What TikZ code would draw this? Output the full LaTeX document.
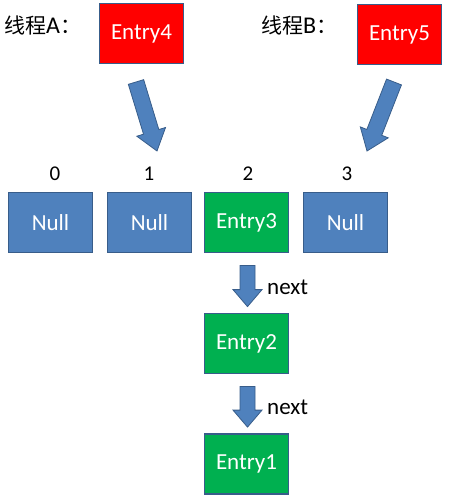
\documentclass[tikz,border=0pt]{standalone}
\usepackage{fontspec}
\setmainfont{Carlito}
\newfontfamily\cjk{Noto Sans CJK SC}
\usetikzlibrary{calc}
\definecolor{boxblue}{HTML}{4F81BD}
\definecolor{boxedge}{HTML}{385D8A}
\definecolor{boxred}{HTML}{FF0000}
\definecolor{boxgreen}{HTML}{00B050}
\tikzset{
  cell/.style={draw=boxedge, line width=1.8pt, minimum width=84pt, minimum height=60pt, inner sep=0pt, text=white, font=\fontsize{23}{26}\selectfont},
  nullcell/.style={cell, fill=boxblue},
  redcell/.style={cell, fill=boxred},
  greencell/.style={cell, fill=boxgreen},
  lbl/.style={font=\fontsize{21}{24}\selectfont, text=black, inner sep=0pt},
  side/.style={lbl, anchor=west, font=\fontsize{23}{26}\selectfont},
  thread/.style={lbl, anchor=west, font=\fontsize{24}{28}\selectfont},
  blockarrow/.style={fill=boxblue, draw=boxedge, line width=0.8pt, line join=miter}
}
\newcommand{\blkarrow}[5]{% start, end, shaft half, head half, head length
  \path (#1) coordinate (ba-s) (#2) coordinate (ba-e);
  \path ($(ba-e)!#5!(ba-s)$) coordinate (ba-h);
  \filldraw[blockarrow] ($(ba-s)!#3!90:(ba-e)$) -- ($(ba-h)!#3!90:(ba-e)$) -- ($(ba-h)!#4!90:(ba-e)$) -- (ba-e) -- ($(ba-h)!#4!-90:(ba-e)$) -- ($(ba-h)!#3!-90:(ba-e)$) -- ($(ba-s)!#3!-90:(ba-e)$) -- cycle;
}
\begin{document}
\begin{tikzpicture}[x=1pt, y=-1pt]
  \useasboundingbox (0,0) rectangle (448,502);
  % thread labels
  \node[thread] (ta) at (4,25) {{\cjk\fontsize{21}{24}\selectfont 线程}A{\cjk\fontsize{21}{24}\selectfont ：}};
  \node[thread] (tb) at (261,25) {{\cjk\fontsize{21}{24}\selectfont 线程}B{\cjk\fontsize{21}{24}\selectfont ：}};
  % new entries
  \node[redcell] (e4) at (141.5,33.5) {Entry4};
  \node[redcell] (e5) at (399.5,34.5) {Entry5};
  % table
  \node[nullcell] (b0) at (50.5,222.5) {Null};
  \node[nullcell] (b1) at (149.5,222.5) {Null};
  \node[greencell] (e3) at (246.5,222.5) {Entry3};
  \node[nullcell] (b3) at (345.5,222.5) {Null};
  \node[lbl] (i0) at (55,174) {0};
  \node[lbl] (i1) at (149,174) {1};
  \node[lbl] (i2) at (248,174) {2};
  \node[lbl] (i3) at (347,174) {3};
  % chain
  \node[greencell] (e2) at (246.5,343.5) {Entry2};
  \node[greencell] (e1) at (246.5,464) {Entry1};
  % block arrows
  \coordinate (a4s) at (136,82);
  \coordinate (a4e) at (157,151);
  \coordinate (a5s) at (394,82);
  \coordinate (a5e) at (367,151);
  \blkarrow{a4s}{a4e}{8pt}{15pt}{20pt}
  \blkarrow{a5s}{a5e}{8pt}{15pt}{20pt}
  \coordinate (n1s) at ($(e3.south)+(1,12)$);
  \coordinate (n1e) at ($(e2.north)+(1,-6)$);
  \coordinate (n2s) at ($(e2.south)+(1,12)$);
  \coordinate (n2e) at ($(e1.north)+(1,-6)$);
  \blkarrow{n1s}{n1e}{7.5pt}{14.5pt}{17pt}
  \blkarrow{n2s}{n2e}{7.5pt}{14.5pt}{17pt}
  \node[side] (nx1) at (267,287) {next};
  \node[side] (nx2) at (267,407) {next};
\end{tikzpicture}
\end{document}
